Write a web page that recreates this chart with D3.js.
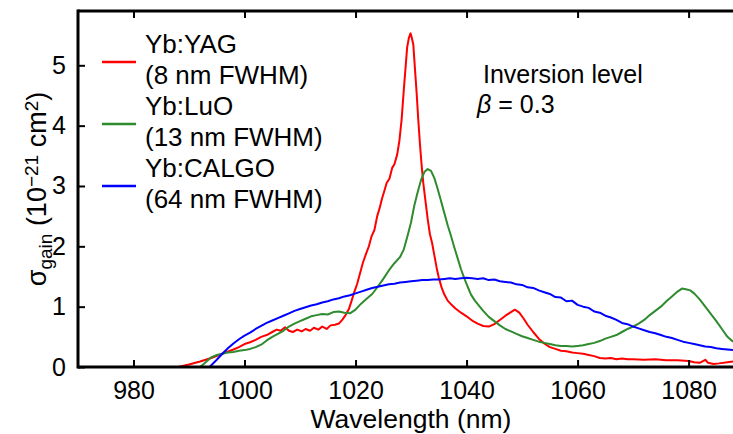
<!DOCTYPE html>
<html>
<head>
<meta charset="utf-8">
<script src="https://cdn.jsdelivr.net/npm/d3@7"></script>
<style>
  body { margin: 0; background: #fff; }
  svg text { font-family: "Liberation Sans", Arial, sans-serif; fill: #000; }
  .axis path { display: none; }
  .axis line { stroke: #000; stroke-width: 2; }
  .curve { fill: none; stroke-width: 2; stroke-linejoin: round; }
</style>
</head>
<body>
<div id="chart"></div>
<script>
var width = 733;
var height = 434;
var margin = {left: 78, right: 0, top: 11, bottom: 67};

// x ticks and y ticks
var xTicks = [980, 1000, 1020, 1040, 1060, 1080];
var yTicks = [0, 1, 2, 3, 4, 5];

// [wavelength nm, gain cross section 1e-21 cm2]
var yag = [[988,0],[990,0.04],[992,0.09],[994,0.15],[996,0.22],[998,0.29],[999,0.33],[1000,0.38],[1001,0.41],[1002,0.45],[1003,0.5],[1004,0.53],[1005,0.58],[1005.8,0.62],[1006.5,0.6],[1007.3,0.66],[1008,0.6],[1008.7,0.58],[1009.5,0.62],[1010.3,0.59],[1011,0.63],[1011.8,0.6],[1012.5,0.65],[1013.3,0.62],[1014,0.67],[1014.8,0.63],[1015.5,0.69],[1016.3,0.7],[1017,0.72],[1017.6,0.78],[1018.2,0.86],[1018.8,0.96],[1019.3,1.1],[1019.8,1.25],[1020.3,1.38],[1020.8,1.55],[1021.3,1.72],[1021.9,1.88],[1022.4,2.0],[1022.9,2.17],[1023.4,2.27],[1023.9,2.5],[1024.3,2.62],[1024.8,2.8],[1025.2,2.92],[1025.6,3.05],[1026.1,3.12],[1026.6,3.3],[1027.0,3.36],[1027.5,3.52],[1027.9,3.75],[1028.3,4.1],[1028.7,4.6],[1029.0,4.95],[1029.3,5.3],[1029.6,5.45],[1029.9,5.53],[1030.1,5.47],[1030.4,5.35],[1030.7,4.95],[1031.0,4.55],[1031.3,4.1],[1031.6,3.7],[1031.9,3.35],[1032.2,3.05],[1032.6,2.75],[1033.0,2.45],[1033.4,2.2],[1033.8,2.05],[1034.2,1.85],[1034.6,1.65],[1035.0,1.48],[1035.5,1.32],[1036.0,1.2],[1036.6,1.1],[1037.3,1.03],[1038,0.97],[1039,0.9],[1040,0.84],[1041,0.77],[1042,0.72],[1043,0.68],[1044,0.67],[1045,0.71],[1046,0.78],[1047,0.85],[1048,0.91],[1048.7,0.95],[1049.5,0.9],[1050.3,0.8],[1051,0.7],[1052,0.58],[1053,0.47],[1054,0.39],[1055,0.33],[1056,0.3],[1057,0.27],[1058,0.26],[1059,0.24],[1060,0.23],[1061,0.22],[1062,0.2],[1063,0.18],[1064,0.15],[1065,0.14],[1066,0.15],[1067,0.13],[1068,0.14],[1069,0.13],[1070,0.13],[1072,0.12],[1074,0.13],[1076,0.11],[1078,0.11],[1080,0.1],[1081,0.08],[1082,0.07],[1083,0.12],[1083.5,0.07],[1084.5,0.05],[1085.5,0.06],[1087,0.08],[1088,0.09]];

var luo = [[992,0],[993,0.08],[994,0.16],[995,0.2],[996,0.22],[997,0.24],[998,0.25],[999,0.27],[1000,0.28],[1001,0.3],[1002,0.33],[1003,0.37],[1004,0.44],[1005,0.5],[1006,0.55],[1007,0.6],[1008,0.67],[1009,0.72],[1010,0.76],[1011,0.8],[1012,0.84],[1013,0.86],[1014,0.88],[1015,0.87],[1016,0.91],[1017,0.92],[1018,0.9],[1019,0.89],[1020,0.95],[1021,1.05],[1022,1.13],[1023,1.21],[1024,1.33],[1025,1.46],[1026,1.6],[1027,1.72],[1028,1.82],[1028.7,1.95],[1029.3,2.15],[1030,2.4],[1030.6,2.68],[1031.2,2.9],[1031.8,3.1],[1032.4,3.23],[1033,3.28],[1033.6,3.25],[1034.2,3.13],[1034.8,2.95],[1035.4,2.75],[1036,2.55],[1036.6,2.35],[1037.2,2.17],[1037.8,1.98],[1038.4,1.8],[1039,1.62],[1039.6,1.47],[1040.2,1.33],[1040.8,1.2],[1041.5,1.1],[1042.3,1.01],[1043,0.93],[1044,0.83],[1045,0.76],[1046,0.69],[1047,0.63],[1048,0.59],[1049,0.55],[1050,0.51],[1051,0.48],[1052,0.45],[1053,0.42],[1054,0.4],[1055,0.38],[1056,0.36],[1057,0.35],[1058,0.35],[1059,0.34],[1060,0.35],[1061,0.36],[1062,0.38],[1063,0.4],[1064,0.43],[1065,0.47],[1066,0.5],[1067,0.53],[1068,0.58],[1069,0.63],[1070,0.67],[1071,0.72],[1072,0.78],[1073,0.86],[1074,0.93],[1075,1.0],[1076,1.09],[1077,1.17],[1078,1.25],[1078.8,1.3],[1079.5,1.29],[1080.3,1.27],[1081,1.22],[1082,1.12],[1083,1.0],[1084,0.88],[1085,0.76],[1086,0.63],[1087,0.5],[1088,0.42]];

var calgo = [[993.7,0],[995,0.12],[996,0.22],[997,0.31],[998,0.39],[999,0.46],[1000,0.52],[1001,0.57],[1002,0.63],[1003,0.68],[1004,0.73],[1005,0.77],[1006,0.81],[1007,0.85],[1008,0.89],[1009,0.93],[1010,0.96],[1011,0.99],[1012,1.02],[1013,1.04],[1014,1.07],[1015,1.09],[1016,1.12],[1017,1.14],[1018,1.17],[1019,1.19],[1020,1.22],[1021,1.25],[1022,1.28],[1023,1.31],[1024,1.33],[1025,1.35],[1026,1.37],[1027,1.38],[1028,1.4],[1029,1.41],[1030,1.42],[1031,1.43],[1032,1.44],[1033,1.44],[1034,1.45],[1035,1.45],[1036,1.46],[1037,1.47],[1038,1.46],[1039,1.47],[1040,1.48],[1041,1.47],[1042,1.46],[1043,1.47],[1044,1.44],[1045,1.45],[1046,1.42],[1047,1.41],[1048,1.4],[1049,1.37],[1050,1.36],[1051,1.32],[1052,1.31],[1053,1.27],[1054,1.24],[1055,1.21],[1056,1.16],[1057,1.15],[1058,1.09],[1059,1.1],[1060,1.03],[1061,1.0],[1062,0.98],[1063,0.92],[1064,0.9],[1065,0.85],[1066,0.82],[1067,0.78],[1068,0.73],[1069,0.71],[1070,0.67],[1071,0.64],[1072,0.61],[1073,0.58],[1074,0.56],[1075,0.53],[1076,0.5],[1077,0.48],[1078,0.45],[1079,0.42],[1080,0.4],[1081,0.38],[1082,0.36],[1083,0.34],[1084,0.33],[1085,0.31],[1086,0.3],[1087,0.29],[1088,0.28]];

var seriesNames = ['Yb:YAG', 'Yb:LuO', 'Yb:CALGO'];
var seriesWidths = ['(8 nm FWHM)', '(13 nm FWHM)', '(64 nm FWHM)'];
var seriesColors = ['#ff0000', '#2e8b2e', '#0000ff'];
var seriesData = [yag, luo, calgo];

var svg = d3.select('#chart')
    .append('svg')
    .attr('width', width)
    .attr('height', height);

var x = d3.scaleLinear().domain([970, 1088]).range([margin.left, width - margin.right]);
var y = d3.scaleLinear().domain([0, 5.9]).range([height - margin.bottom, margin.top]);

svg.append('clipPath').attr('id', 'plot-clip')
    .append('rect')
    .attr('x', margin.left).attr('y', margin.top)
    .attr('width', width - margin.left).attr('height', height - margin.bottom - margin.top);

var line = d3.line()
    .x(function(d) { return x(d[0]); })
    .y(function(d) { return y(d[1]); });

svg.append('g')
    .attr('clip-path', 'url(#plot-clip)')
    .selectAll('path')
    .data(seriesData)
    .enter()
    .append('path')
    .attr('class', 'curve')
    .attr('stroke', function(d, i) { return seriesColors[i]; })
    .attr('d', line);

// axes, ticks pointing inward
var bottom = svg.append('g')
    .attr('class', 'axis')
    .attr('transform', 'translate(0,' + y(0) + ')')
    .call(d3.axisBottom(x).tickValues(xTicks).tickFormat(d3.format('d'))
        .tickSizeInner(-7).tickSizeOuter(0).tickPadding(14));
bottom.selectAll('text').style('font-size', '25px');

svg.append('g')
    .attr('class', 'axis')
    .attr('transform', 'translate(0,' + margin.top + ')')
    .call(d3.axisTop(x).tickValues(xTicks).tickSizeInner(-7).tickSizeOuter(0).tickFormat(''));

var left = svg.append('g')
    .attr('class', 'axis')
    .attr('transform', 'translate(' + margin.left + ',0)')
    .call(d3.axisLeft(y).tickValues(yTicks).tickFormat(d3.format('d'))
        .tickSizeInner(-7).tickSizeOuter(0).tickPadding(12));
left.selectAll('text').style('font-size', '25px');

// frame
var frame = svg.append('g').attr('stroke', '#000').attr('stroke-width', 3);
frame.append('line').attr('x1', margin.left).attr('x2', width).attr('y1', y(0)).attr('y2', y(0));
frame.append('line').attr('x1', margin.left).attr('x2', width).attr('y1', margin.top).attr('y2', margin.top);
frame.append('line').attr('x1', margin.left).attr('x2', margin.left).attr('y1', margin.top - 1.5).attr('y2', y(0) + 1.5);

svg.append('text')
    .attr('x', 411)
    .attr('y', 428)
    .attr('text-anchor', 'middle')
    .style('font-size', '26.5px')
    .text('Wavelength (nm)');

var ylab = svg.append('text')
    .attr('transform', 'translate(46,' + ((margin.top + y(0)) / 2) + ') rotate(-90)')
    .attr('text-anchor', 'middle')
    .style('font-size', '27px');
ylab.append('tspan').text('σ');
ylab.append('tspan').attr('baseline-shift', '-30%').style('font-size', '19px').text('gain');
ylab.append('tspan').text(' (10');
ylab.append('tspan').attr('baseline-shift', '40%').style('font-size', '19px').text('−21');
ylab.append('tspan').text(' cm');
ylab.append('tspan').attr('baseline-shift', '40%').style('font-size', '19px').text('2');
ylab.append('tspan').text(')');

// legend
var legend = svg.append('g')
    .selectAll('g')
    .data(seriesNames)
    .enter()
    .append('g')
    .attr('transform', function(d, i) { return 'translate(0,' + (i * 62) + ')'; });
legend.append('line')
    .attr('x1', 102).attr('x2', 136)
    .attr('y1', 62).attr('y2', 62)
    .attr('stroke-width', 2.5)
    .attr('stroke', function(d, i) { return seriesColors[i]; });
legend.append('text')
    .attr('x', 145).attr('y', 53)
    .style('font-size', '26px')
    .text(function(d) { return d; });
legend.append('text')
    .attr('x', 145).attr('y', 84)
    .style('font-size', '26px')
    .text(function(d, i) { return seriesWidths[i]; });

svg.append('text')
    .attr('x', 483).attr('y', 83)
    .style('font-size', '25px')
    .text('Inversion level');
var beta = svg.append('text')
    .attr('x', 477).attr('y', 113)
    .style('font-size', '25px');
beta.append('tspan').style('font-style', 'italic').text('β');
beta.append('tspan').text(' = 0.3');
</script>
</body>
</html>
